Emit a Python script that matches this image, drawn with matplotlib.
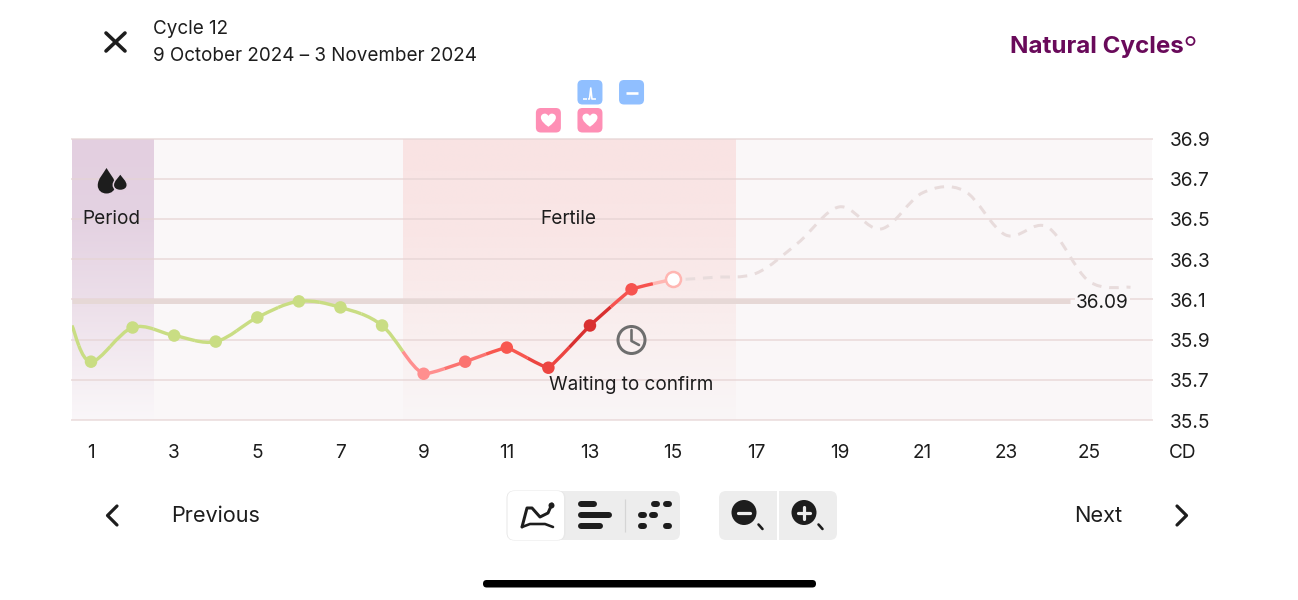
import numpy as np
import matplotlib
matplotlib.use("Agg")
import matplotlib.pyplot as plt
from matplotlib.path import Path
from matplotlib.patches import PathPatch, FancyBboxPatch, Circle, Rectangle
from matplotlib.colors import to_rgb
from matplotlib.transforms import ScaledTranslation

# ---------- data ----------
days = [0.54, 1, 2, 3, 4, 5, 6, 7, 8, 9, 10, 11, 12, 13, 14, 15]
temps = [35.97, 35.79, 35.96, 35.92, 35.89, 36.01, 36.09, 36.06, 35.97,
         35.73, 35.79, 35.86, 35.76, 35.97, 36.15, 36.20]
point_colors = ["#c9dd83"] * 9 + ["#ff8f8f", "#fb7370", "#f8574f", "#ec4541",
                                  "#d93030", "#f6534f", "#ffb6b2"]
pred_days = [15.3, 16, 17, 18, 19, 20, 21, 22, 23, 24, 25, 26]
pred_temps = [36.20, 36.21, 36.23, 36.38, 36.56, 36.45, 36.63, 36.64, 36.42, 36.46, 36.19, 36.16]
coverline = 36.09
y_ticks = [35.5, 35.7, 35.9, 36.1, 36.3, 36.5, 36.7, 36.9]
x_ticks = [1, 3, 5, 7, 9, 11, 13, 15, 17, 19, 21, 23, 25]
period_span = (0.54, 2.5)
fertile_span = (8.5, 16.5)
heart_days = [12, 13]
test_days = [13, 14]

FONT = "Inter"
INK = "#1d1d1d"
PX = 72 / 100  # points per pixel at dpi 100
TS = 13.7

plt.rcParams["font.family"] = [FONT, "DejaVu Sans"]
fig = plt.figure(figsize=(12.98, 6), dpi=100, facecolor="white")
W, H = 1298, 600
ax = fig.add_axes([72 / W, 1 - 420 / H, 1080 / W, (420 - 138.5) / H])
XL = (0.543, 26.517)
YL = (35.5, 36.9)


def grad(span, stops, zorder):
    ys = np.linspace(0, 1, 256)
    cols = np.array([to_rgb(c) for _, c in stops])
    pos = [p for p, _ in stops]
    img = np.stack([np.interp(ys, pos, cols[:, i]) for i in range(3)], axis=1)[:, None, :]
    ax.imshow(img, extent=(span[0], span[1], YL[0], YL[1]), origin="upper",
              aspect="auto", zorder=zorder, interpolation="bilinear")


ax.set_facecolor("#faf7f8")
grad((XL[0], period_span[1]), [(0, "#e3cfe0"), (0.3, "#e4d2e2"), (0.6, "#ede0ea"), (1, "#faf7f9")], 1)
grad(fertile_span, [(0, "#f9e3e3"), (0.35, "#f9e6e6"), (0.7, "#f9efef"), (1, "#faf6f7")], 1)
ax.set_xlim(*XL)
ax.set_ylim(*YL)
for s in ax.spines.values():
    s.set_visible(False)
ax.set_xticks(x_ticks)
ax.set_yticks(y_ticks)
ax.set_yticklabels([f"{v:.1f}" for v in y_ticks])
ax.yaxis.tick_right()
ax.tick_params(axis="both", length=0, labelsize=TS, labelcolor=INK)
ax.tick_params(axis="y", pad=18 * PX)
ax.tick_params(axis="x", pad=24.5 * PX)
shift = ScaledTranslation(0, -0.5 / 100, fig.dpi_scale_trans)
for lab in ax.get_yticklabels():
    lab.set_transform(lab.get_transform() + shift)
ax.grid(axis="y", color="#e6d4d4", alpha=0.65, lw=2 * PX, zorder=2, clip_on=False)
ax.set_axisbelow(False)
for ln in ax.get_ygridlines():
    ln.set_zorder(2)
    ln.set_clip_on(False)

ax.plot([XL[0], 24.55], [coverline, coverline], color="#e6d8d6", lw=5 * PX, zorder=3,
        solid_capstyle="butt")


def beziers(xs, ys, tension=None):
    P = np.column_stack([xs, ys])
    Q = np.vstack([P[0], P, P[-1]])
    out = []
    for i in range(1, len(Q) - 2):
        t = 1 / 6 if tension is None else tension(i - 1)
        p0, p1, p2, p3 = Q[i - 1], Q[i], Q[i + 1], Q[i + 2]
        out.append((p1, p1 + (p2 - p0) * t, p2 - (p3 - p1) * t, p2))
    return out


def split(b):
    a, c1, c2, d = b
    m1, m2, m3 = (a + c1) / 2, (c1 + c2) / 2, (c2 + d) / 2
    n1, n2 = (m1 + m2) / 2, (m2 + m3) / 2
    o = (n1 + n2) / 2
    return (a, m1, n1, o), (o, n2, m3, d)


def curve(b, color, lw, zorder, **kw):
    verts = list(b)
    codes = [Path.MOVETO, Path.CURVE4, Path.CURVE4, Path.CURVE4]
    ax.add_patch(PathPatch(Path(verts, codes), fill=False, edgecolor=color, lw=lw,
                           zorder=zorder, **kw))


segs = beziers(days, temps, tension=lambda i: 1 / 6 if i < 9 else 1 / 24)
for i, b in enumerate(segs):
    left, right = split(b)
    curve(left, point_colors[i], 3.4 * PX, 4, capstyle="butt")
    curve(right, point_colors[i + 1], 3.4 * PX, 4, capstyle="butt")

# dashed prediction
pb = beziers(pred_days, pred_temps)
verts = [pb[0][0]]
codes = [Path.MOVETO]
for b in pb:
    verts += [b[1], b[2], b[3]]
    codes += [Path.CURVE4] * 3
ax.add_patch(PathPatch(Path(verts, codes), fill=False, edgecolor="#e8dcdc", lw=3 * PX,
                       linestyle=(0, (3.2, 2.6)), zorder=4, capstyle="butt"))

# points
ax.scatter(days[1:-1], temps[1:-1], s=(12.5 * PX) ** 2, c=point_colors[1:-1], zorder=5, linewidths=0)
ax.scatter(days[-1:], temps[-1:], s=(15 * PX) ** 2, facecolor="white",
           edgecolor=point_colors[-1], linewidths=2.5 * PX, zorder=5)

ax.text(25.32, coverline - 0.01, f"{coverline:.2f}", ha="center", va="center", fontsize=TS,
        color=INK, zorder=6,
        bbox=dict(facecolor="#faf7f8", edgecolor="none", pad=1))

# ---------- overlay (pixel coordinates) ----------
ui = fig.add_axes([0, 0, 1, 1], zorder=10)
ui.set_xlim(0, W)
ui.set_ylim(H, 0)
ui.axis("off")
ui.patch.set_alpha(0)


def day_x(d):
    return 91 + (d - 1) * 41.58


def txt(x, y, s, ha="left", size=TS, **kw):
    kw.setdefault("color", INK)
    ui.text(x, y, s, ha=ha, va="center", fontsize=size, **kw)


def line(xs, ys, lw=3, color=INK, cap="round"):
    ui.plot(xs, ys, color=color, lw=lw * PX, solid_capstyle=cap, solid_joinstyle="round", zorder=5)


def rrect(x0, y0, x1, y1, r, color, z=2, **kw):
    ui.add_patch(FancyBboxPatch((x0 + r, y0 + r), x1 - x0 - 2 * r, y1 - y0 - 2 * r,
                                boxstyle=f"round,pad={r},rounding_size={r}",
                                facecolor=color, edgecolor="none", zorder=z, **kw))


def heart(cx, cy, s, color="white"):
    v = [(0, .9), (-.55, .5), (-1, .12), (-1, -.35), (-1, -.7), (-.7, -.85), (-.48, -.85),
         (-.25, -.85), (-.08, -.72), (0, -.52), (.08, -.72), (.25, -.85), (.48, -.85),
         (.7, -.85), (1, -.7), (1, -.35), (1, .12), (.55, .5), (0, .9), (0, .9)]
    c = [Path.MOVETO] + [Path.CURVE4] * 18 + [Path.CLOSEPOLY]
    v = [(cx + x * s, cy + y * s) for x, y in v]
    ui.add_patch(PathPatch(Path(v, c), facecolor=color, edgecolor="none", zorder=4))


def drop(cx, top, h, w, z=4, edge="none", elw=0):
    v = [(0, 0), (-.18, .22), (-.5, .42), (-.5, .68), (-.5, .88), (-.28, 1), (0, 1),
         (.28, 1), (.5, .88), (.5, .68), (.5, .42), (.18, .22), (0, 0), (0, 0)]
    c = [Path.MOVETO] + [Path.CURVE4] * 12 + [Path.CLOSEPOLY]
    pts = [(cx + x * w, top + y * h) for x, y in v]
    ui.add_patch(PathPatch(Path(pts, c), facecolor=INK, edgecolor=edge, lw=elw, zorder=z))


# header
line([106, 125], [33, 51], lw=3.6)
line([125, 106], [33, 51], lw=3.6)
txt(153, 29, "Cycle 12", size=13.55)
txt(153, 56, "9 October 2024 – 3 November 2024", size=13.55)
ui.text(1010, 47.5, "Natural Cycles", ha="left", va="center", fontsize=17.4, fontweight="bold",
        color="#690a5a")
ui.add_patch(Circle((1190.5, 41), 4, facecolor="none", edgecolor="#690a5a", lw=1.8 * PX))

# phase annotations
drop(106.5, 168, 25.5, 17.5)
drop(120.3, 173.5, 17, 14, z=5, edge="#e3d0e0", elw=1.5 * PX)
txt(111.5, 219, "Period", ha="center")
txt(568.5, 219, "Fertile", ha="center")
txt(631, 385.5, "Waiting to confirm", ha="center", size=13.6)
ui.add_patch(Circle((631.5, 340), 13.5, facecolor="none", edgecolor="#6e6e6e", lw=3 * PX, zorder=4))
line([631.5, 631.5, 639], [330, 341, 345], lw=2.6, color="#6e6e6e")
txt(1183, 453, "CD", ha="center")

# badges
for d in heart_days:
    x = day_x(d)
    rrect(x - 12.5, 108, x + 12.5, 132.5, 5, "#fe8fb5")
    heart(x, 120, 7.5)
for d in test_days:
    x = day_x(d)
    rrect(x - 12.5, 80, x + 12.5, 104.5, 5, "#90bfff")
x = day_x(test_days[0])
line([x - 7, x - 3], [99, 99], lw=1.6, color="white", cap="butt")
line([x - 2, x - .5, x + .8, x + 2, x + 6], [99, 99, 88, 99, 99], lw=1.6, color="white", cap="butt")
x = day_x(test_days[1])
line([x - 6, x + 6], [93, 93], lw=2.6, color="white", cap="butt")

# bottom nav
line([117, 107.5, 117], [506, 515.5, 525], lw=3.2)
line([1177, 1186.5, 1177], [506, 515.5, 525], lw=3.2)
txt(171, 516, "Previous", size=15.6)
txt(1122.5, 516, "Next", ha="right", size=15.7)

# view toggle
rrect(507, 491, 680, 540, 7, "#ededed")
rrect(506.5, 490.5, 565.5, 540.5, 8, "#e8e8e8", z=2.5)
rrect(507.5, 491, 564, 540, 7, "white", z=3)
line([522, 527, 532, 540, 548, 552], [527, 508, 508, 517, 513, 504], lw=3)
ui.scatter([551], [505], s=(6 * PX) ** 2, color=INK, zorder=5, linewidths=0)
line([522, 530, 545, 553], [527, 524, 524, 527], lw=2.6)
for x0, x1, y in [(581, 594, 504), (581, 609, 515), (581, 600, 526)]:
    line([x0, x1], [y, y], lw=6)
line([624.5, 624.5], [499, 532], lw=1.2, color="#d5d5d5", cap="butt")
for xc, y in [(655, 504), (667, 504), (642, 515), (653, 515), (642, 526), (667, 526)]:
    line([xc - 1.5, xc + 1.5], [y, y], lw=6)

# zoom buttons
rrect(719, 491, 837, 540, 7, "#ededed")
ui.add_patch(Rectangle((777, 491), 1.6, 49, facecolor="white", edgecolor="none", zorder=3))
for cx in (744, 804):
    ui.add_patch(Circle((cx, 512.5), 12.5, facecolor=INK, edgecolor="none", zorder=4))
    line([cx + 14.5, cx + 18.5], [524.5, 529], lw=2.6)
    ui.plot([cx - 6, cx + 6], [512.5, 512.5], color="#ededed", lw=3.2 * PX, zorder=6,
            solid_capstyle="round")
ui.plot([804, 804], [506.5, 518.5], color="#ededed", lw=3.2 * PX, zorder=6, solid_capstyle="round")

# home indicator
rrect(483, 580, 816, 587.5, 3.7, "black")

ui.set_xlim(0, W)
ui.set_ylim(H, 0)
fig.savefig("out.png", dpi=100, facecolor="white")
